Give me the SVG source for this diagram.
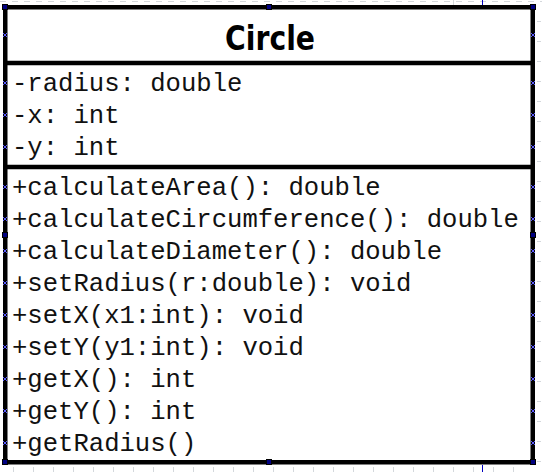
<svg xmlns="http://www.w3.org/2000/svg" width="542" height="472" viewBox="0 0 542 472">
<style>
.guide{stroke:#d4d8dc;stroke-width:1;fill:none}
.frame{stroke:#000;stroke-width:4.5;fill:#fff}
.sep{stroke:#000;stroke-width:4.5}
.t{font-family:"Liberation Mono","Courier New",monospace;font-size:25.6px;fill:#111}
.title{font-family:"DejaVu Sans",Tahoma,sans-serif;font-weight:bold;font-size:34px;fill:#000}
.h{fill:#000080;stroke:#000;stroke-width:1}
.mk{stroke:#5a5aff;stroke-width:1;fill:none}
</style>
<rect width="542" height="472" fill="#fff"/>
<g id="guides">
<line class="guide" x1="0" y1="1.5" x2="542" y2="1.5" stroke-dasharray="6,6"/>
<line class="guide" x1="453.5" y1="0" x2="453.5" y2="5"/>
<path class="guide" d="M537 21.5h4M537 41.5h4M537 61.5h4M537 81.5h4M537 101.5h4M537 121.5h4M537 141.5h4M537 161.5h4M537 181.5h4M537 201.5h4M537 221.5h4M537 241.5h4M537 261.5h4M537 281.5h4M537 301.5h4M537 321.5h4M537 341.5h4M537 361.5h4M537 381.5h4M537 401.5h4M537 421.5h4M537 441.5h4M537 461.5h4"/>
<path class="guide" d="M13.5 467v5M33.5 467v5M53.5 467v5M73.5 467v5M93.5 467v5M113.5 467v5M133.5 467v5M153.5 467v5M173.5 467v5M193.5 467v5M213.5 467v5M233.5 467v5M253.5 467v5M273.5 467v5M293.5 467v5M313.5 467v5M333.5 467v5M353.5 467v5M373.5 467v5M393.5 467v5M413.5 467v5M433.5 467v5M453.5 467v5M473.5 467v5M493.5 467v5M513.5 467v5"/>
<line x1="482.5" y1="0" x2="482.5" y2="5" stroke="#0000c0" stroke-width="1"/>
<line x1="482.5" y1="465" x2="482.5" y2="472" stroke="#0000c0" stroke-width="1"/>
</g>
<g id="Circle">
<rect class="frame" x="5.25" y="7.25" width="527.5" height="455"/>
<line class="sep" x1="5" y1="63" x2="533" y2="63"/>
<line class="sep" x1="5" y1="167" x2="533" y2="167"/>
<text class="title" x="225" y="50" textLength="90" lengthAdjust="spacingAndGlyphs">Circle</text>
<text class="t" x="12" y="91">-radius: double</text>
<text class="t" x="12" y="123">-x: int</text>
<text class="t" x="12" y="155">-y: int</text>
<text class="t" x="12" y="195">+calculateArea(): double</text>
<text class="t" x="12" y="227">+calculateCircumference(): double</text>
<text class="t" x="12" y="259">+calculateDiameter(): double</text>
<text class="t" x="12" y="291">+setRadius(r:double): void</text>
<text class="t" x="12" y="323">+setX(x1:int): void</text>
<text class="t" x="12" y="355">+setY(y1:int): void</text>
<text class="t" x="12" y="387">+getX(): int</text>
<text class="t" x="12" y="419">+getY(): int</text>
<text class="t" x="12" y="451">+getRadius()</text>
</g>
<g id="markers">
<path class="mk" d="M3 33l4 4M7 33l-4 4M3 81l4 4M7 81l-4 4M3 113l4 4M7 113l-4 4M3 145l4 4M7 145l-4 4M3 185l4 4M7 185l-4 4M3 217l4 4M7 217l-4 4M3 249l4 4M7 249l-4 4M3 281l4 4M7 281l-4 4M3 313l4 4M7 313l-4 4M3 345l4 4M7 345l-4 4M3 377l4 4M7 377l-4 4M3 409l4 4M7 409l-4 4M3 441l4 4M7 441l-4 4"/>
<path class="mk" d="M531 33l4 4M535 33l-4 4M531 81l4 4M535 81l-4 4M531 113l4 4M535 113l-4 4M531 145l4 4M535 145l-4 4M531 185l4 4M535 185l-4 4M531 217l4 4M535 217l-4 4M531 249l4 4M535 249l-4 4M531 281l4 4M535 281l-4 4M531 313l4 4M535 313l-4 4M531 345l4 4M535 345l-4 4M531 377l4 4M535 377l-4 4M531 409l4 4M535 409l-4 4M531 441l4 4M535 441l-4 4"/>
</g>
<g id="handles">
<rect class="h" x="2.5" y="4.5" width="5" height="5"/>
<rect class="h" x="530.5" y="4.5" width="5" height="5"/>
<rect class="h" x="2.5" y="459.5" width="5" height="5"/>
<rect class="h" x="530.5" y="459.5" width="5" height="5"/>
<rect class="h" x="2.5" y="232.5" width="5" height="5"/>
<rect class="h" x="530.5" y="232.5" width="5" height="5"/>
<rect class="h" x="266.5" y="4.5" width="5" height="5"/>
<rect class="h" x="266.5" y="459.5" width="5" height="5"/>
</g>
</svg>
